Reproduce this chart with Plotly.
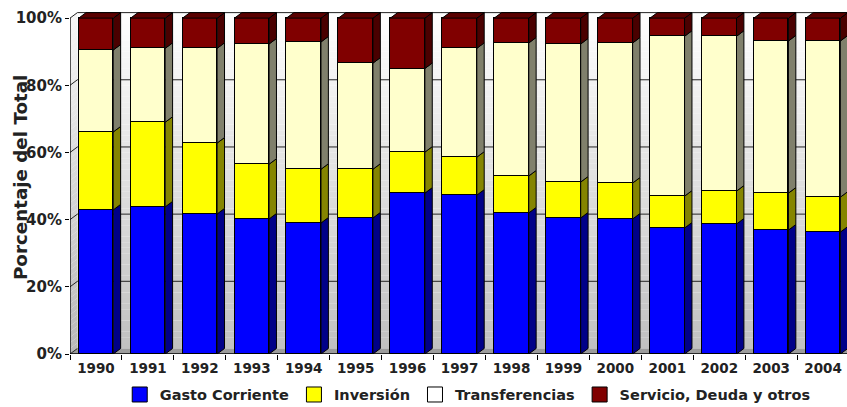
import plotly.graph_objects as go

# Composition of spending by year (% of total)
years = [str(y) for y in range(1990, 2005)]
gasto_corriente = [42.9, 43.8, 41.7, 40.2, 39.0, 40.5, 47.9, 47.3, 42.0, 40.5, 40.2, 37.5, 38.7, 36.9, 36.3]
inversion = [23.2, 25.2, 21.1, 16.3, 16.0, 14.5, 12.2, 11.3, 11.0, 10.7, 10.7, 9.5, 9.8, 11.0, 10.4]
transferencias = [24.4, 22.0, 28.2, 35.8, 37.9, 31.6, 24.9, 32.4, 39.6, 41.1, 41.7, 47.6, 46.1, 45.3, 46.5]
servicio_deuda = [9.5, 9.0, 9.0, 7.7, 7.1, 13.4, 15.0, 9.0, 7.4, 7.7, 7.4, 5.4, 5.4, 6.8, 6.8]
y_ticks = [0, 20, 40, 60, 80, 100]

series = [
    ("Gasto Corriente", gasto_corriente, "#0000ff", "#000088"),
    ("Inversión", inversion, "#ffff00", "#858500"),
    ("Transferencias", transferencias, "#ffffcc", "#80806c"),
    ("Servicio, Deuda y otros", servicio_deuda, "#800000", "#4a0000"),
]
legend_fill = {"Transferencias": "#ffffff"}

BAR_W = 0.665      # bar width in category units
DX = 0.1425        # depth offset (x, category units)
DY = 1.64          # depth offset (y, percent units)
X_MIN, X_MAX = -0.5, 14.46
Y_MAX = 104.5
FONT = "DejaVu Sans"

x = list(range(len(years)))
fig = go.Figure()

# Front faces of the stacked bars
for name, vals, col, _ in series:
    fig.add_trace(go.Bar(
        x=x, y=vals, width=BAR_W, marker=dict(color=col, line=dict(color="black", width=1)),
        showlegend=False, hoverinfo="skip", name=name,
    ))

# Right-hand side faces (and the top face of the last segment) for a 3-D look
base = [0.0] * len(years)
for k, (name, vals, col, side) in enumerate(series):
    px, py = [], []
    for i, v in enumerate(vals):
        y0, y1 = base[i], base[i] + v
        xr = i + BAR_W / 2
        px += [xr, xr + DX, xr + DX, xr, xr, None]
        py += [y0, y0 + DY, y1 + DY, y1, y0, None]
    fig.add_trace(go.Scatter(x=px, y=py, mode="lines", fill="toself", fillcolor=side,
                             line=dict(color="black", width=1), showlegend=False, hoverinfo="skip"))
    if k == len(series) - 1:
        tx, ty = [], []
        for i, v in enumerate(vals):
            top = base[i] + v
            xl, xr = i - BAR_W / 2, i + BAR_W / 2
            tx += [xl, xl + DX, xr + DX, xr, xl, None]
            ty += [top, top + DY, top + DY, top, top, None]
        fig.add_trace(go.Scatter(x=tx, y=ty, mode="lines", fill="toself", fillcolor="#5a0000",
                                 line=dict(color="black", width=1), showlegend=False, hoverinfo="skip"))
    base = [b + v for b, v in zip(base, vals)]

# Legend entries
for name, vals, col, _ in series:
    fig.add_trace(go.Scatter(
        x=[None], y=[None], mode="markers", name=name,
        marker=dict(symbol="square", size=15, color=legend_fill.get(name, col),
                    line=dict(color="black", width=1)),
    ))

# Chart walls: graded back wall, left wall, floor and gridlines
shapes = []
nb = 60
for j in range(nb):
    f0, f1 = j / nb, (j + 1) / nb
    g = int(round(192 + 63 * (f0 + f1) / 2))
    color = f"rgb({g},{g},{g})"
    ya, yb = DY + 100 * f0, DY + 100 * f1
    shapes.append(dict(type="rect", xref="x", yref="y", x0=X_MIN + DX, x1=X_MAX + 1, y0=ya, y1=yb,
                       fillcolor=color, line=dict(width=0), layer="below"))
    la, lb = 100 * f0, 100 * f1
    shapes.append(dict(type="path", xref="x", yref="y",
                       path=f"M{X_MIN},{la} L{X_MIN + DX},{la + DY} L{X_MIN + DX},{lb + DY} L{X_MIN},{lb} Z",
                       fillcolor=f"rgb({g-8},{g-8},{g-8})", line=dict(width=0), layer="below"))
shapes.append(dict(type="path", xref="x", yref="y",
                   path=f"M{X_MIN},0 L{X_MAX + 1},0 L{X_MAX + 1},{DY} L{X_MIN + DX},{DY} Z",
                   fillcolor="#9c9c9c", line=dict(width=0), layer="below"))
for v in y_ticks[1:]:
    shapes.append(dict(type="line", xref="x", yref="y", x0=X_MIN + DX, x1=X_MAX + 1, y0=v + DY, y1=v + DY,
                       line=dict(color="#222222", width=1), layer="below"))
for v in y_ticks:
    shapes.append(dict(type="line", xref="x", yref="y", x0=X_MIN, x1=X_MIN + DX, y0=v, y1=v + DY,
                       line=dict(color="#222222", width=1), layer="below"))
# axis lines
shapes.append(dict(type="line", xref="x", yref="y", x0=X_MIN, x1=X_MIN, y0=0, y1=100,
                   line=dict(color="black", width=1.3), layer="above"))
shapes.append(dict(type="line", xref="x", yref="y", x0=X_MIN, x1=X_MAX + 1, y0=0, y1=0,
                   line=dict(color="black", width=1.3), layer="above"))

fig.update_layout(
    width=847, height=407,
    margin=dict(l=70, r=0, t=3, b=53, autoexpand=False),
    barmode="stack", bargap=0,
    plot_bgcolor="white", paper_bgcolor="white",
    shapes=shapes,
    font=dict(family=FONT, color="#222222"),
    legend=dict(orientation="h", traceorder="normal", x=0.064, xanchor="left", y=-0.07, yanchor="top",
                font=dict(family=FONT, size=14.5, weight="bold", color="#222222"),
                itemsizing="trace", bgcolor="rgba(0,0,0,0)", itemclick=False, tracegroupgap=0),
    xaxis=dict(range=[X_MIN, X_MAX], tickmode="array", tickvals=x, ticktext=years,
               ticks="", showgrid=False, zeroline=False, showline=False, ticklabelstandoff=4,
               tickfont=dict(family=FONT, size=13.5, weight="bold", color="#222222"),
               minor=dict(tickmode="array", tickvals=[i - 0.5 for i in range(len(years) + 1)],
                          ticks="outside", ticklen=5, tickcolor="black", showgrid=False)),
    yaxis=dict(range=[0, Y_MAX], tickmode="array", tickvals=y_ticks,
               ticktext=[f"{v}%" for v in y_ticks], ticks="outside", ticklen=4, tickcolor="black",
               showgrid=False, zeroline=False, showline=False,
               tickfont=dict(family=FONT, size=15, weight="bold", color="#222222")),
    annotations=[dict(text="Porcentaje del Total", textangle=-90, xref="paper", yref="paper",
                      x=-0.0644, y=0.504, xanchor="center", yanchor="middle", showarrow=False,
                      font=dict(family=FONT, size=18.3, weight="bold", color="#222222"))],
)

fig.write_html("out.html")
